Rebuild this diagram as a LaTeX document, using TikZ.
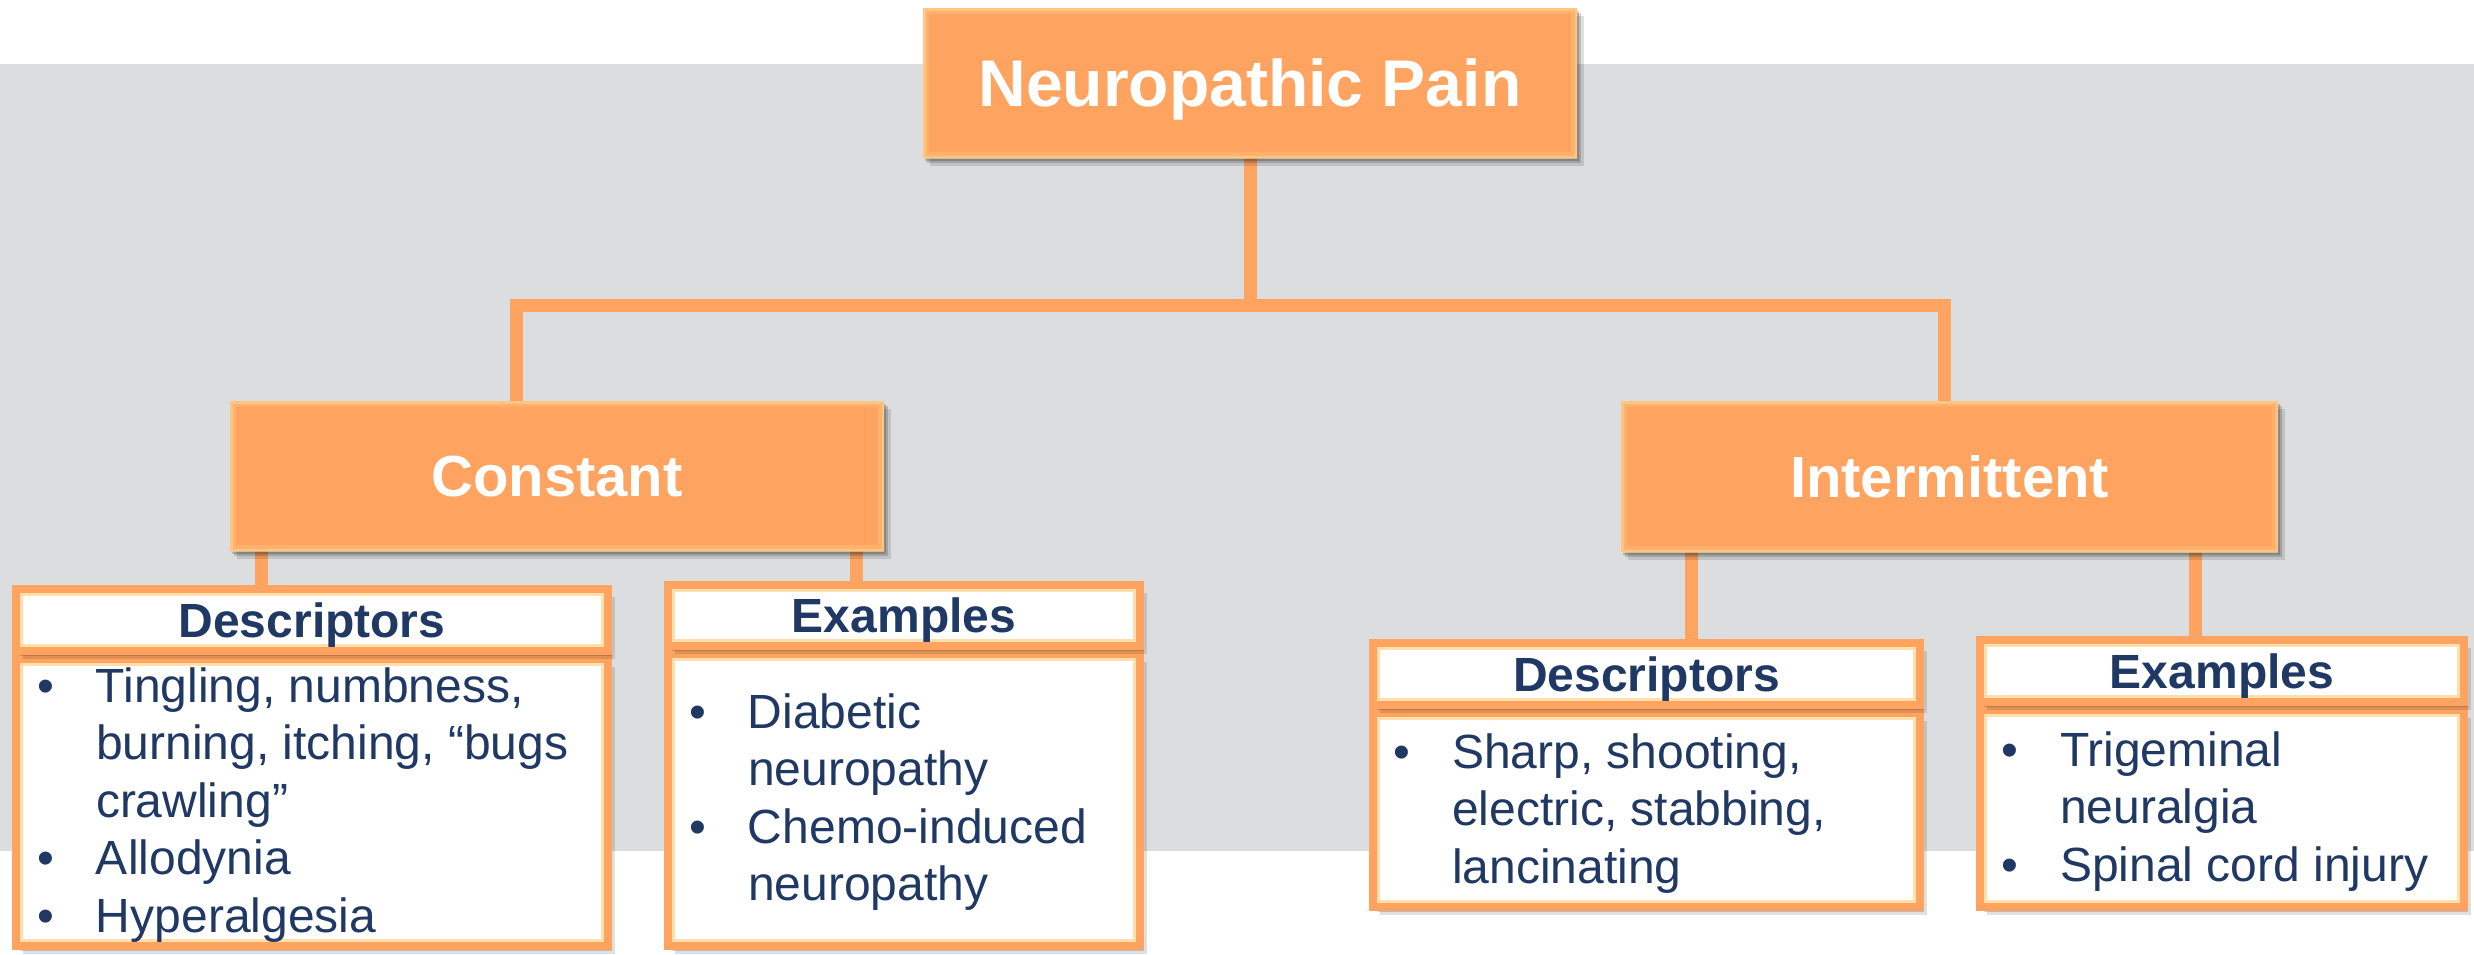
\documentclass[tikz,border=0pt]{standalone}
\usepackage{fontspec}
\setmainfont{Liberation Sans}
\usetikzlibrary{shadows}
\pgfdeclarelayer{back}
\pgfsetlayers{back,main}
\definecolor{bandgray}{RGB}{220,221,223}
\definecolor{boxorange}{RGB}{255,164,96}
\definecolor{litorange}{RGB}{255,216,150}
\definecolor{navy}{RGB}{31,56,100}
\tikzset{
  conn/.style={draw=boxorange, line width=6.5pt},
  softshadow/.style={
      drop shadow={shadow xshift=3.5pt, shadow yshift=-4pt, opacity=.12, fill=black},
      drop shadow={shadow xshift=2.2pt, shadow yshift=-2.6pt, opacity=.16, fill=black},
      drop shadow={shadow xshift=1pt, shadow yshift=-1.3pt, opacity=.18, fill=black}},
  catbox/.style={softshadow, fill=boxorange, draw=none, inner sep=0pt, outer sep=0pt,
      text=white, align=center,
      path picture={
        \draw[litorange, line width=6pt, opacity=.25]
          (path picture bounding box.south west) rectangle (path picture bounding box.north east);
        \draw[litorange, line width=2.5pt, opacity=.55]
          (path picture bounding box.south west) rectangle (path picture bounding box.north east);}},
  framebox/.style={softshadow, fill=white, draw=boxorange, line width=4pt,
      inner sep=0pt, outer sep=0pt, text=navy, align=center,
      path picture={
        \draw[litorange, line width=1.6pt, opacity=.8]
          ([shift={(2.8pt,2.8pt)}]path picture bounding box.south west)
          rectangle ([shift={(-2.8pt,-2.8pt)}]path picture bounding box.north east);}},
  headfont/.style={font=\fontsize{24}{28.8}\selectfont\bfseries, text height=17.2pt, text depth=0pt},
  listtext/.style={anchor=base west, inner sep=0pt, outer sep=0pt, text=navy,
      font=\fontsize{24}{28.8}\selectfont}
}
\newcommand\bulletlist[1]{\begin{tabular}[t]{@{}p{29.5pt}@{}l@{}}#1\end{tabular}}
\begin{document}
\begin{tikzpicture}[x=0.5pt,y=-0.5pt]
\useasboundingbox (0,0) rectangle (2474,954);
\begin{pgfonlayer}{back}
\fill[white] (0,0) rectangle (2474,954);
% grey backdrop band
\fill[bandgray] (0,64) rectangle (2474,851);
\end{pgfonlayer}

% coordinates of the connector verticals
\coordinate (busL) at (516,305);
\coordinate (busR) at (1944,305);
\coordinate (cl) at (261,0);
\coordinate (cr) at (856,0);
\coordinate (il) at (1691,0);
\coordinate (ir) at (2195,0);

% top level
\node[catbox, minimum width=327pt, minimum height=75pt,
      font=\fontsize{33}{38}\selectfont\bfseries, text height=23.6pt, text depth=0pt]
  (top) at (1250,83) {Neuropathic Pain};

% second level
\node[catbox, minimum width=327pt, minimum height=75pt,
      font=\fontsize{29}{34}\selectfont\bfseries, text height=20.8pt, text depth=0pt]
  (constant) at (557,476) {Constant};
\node[catbox, minimum width=328.5pt, minimum height=75.5pt,
      font=\fontsize{29}{34}\selectfont\bfseries, text height=20.8pt, text depth=0pt]
  (inter) at (1949.5,476.5) {Intermittent};

% bodies of the detail boxes
\node[framebox, minimum width=296pt, minimum height=143.5pt] (dlbody) at (312,802.5) {};
\node[framebox, minimum width=236pt, minimum height=146pt] (elbody) at (904,800) {};
\node[framebox, minimum width=273.5pt, minimum height=97pt] (drbody) at (1646.5,810) {};
\node[framebox, minimum width=242pt, minimum height=98.5pt] (erbody) at (2222,808.5) {};

% headers of the detail boxes
\node[framebox, headfont, minimum width=296pt, minimum height=31pt] (dlhead) at (312,620) {Descriptors};
\node[framebox, headfont, minimum width=236pt, minimum height=30.5pt] (elhead) at (904,615.5) {Examples};
\node[framebox, headfont, minimum width=273.5pt, minimum height=31pt] (drhead) at (1646.5,674) {Descriptors};
\node[framebox, headfont, minimum width=242pt, minimum height=31pt] (erhead) at (2222,671) {Examples};

% connectors, kept behind the boxes
\begin{pgfonlayer}{back}
\draw[conn] (top.south) -- (top.south |- busL);
\draw[conn, line join=miter] (busL |- constant.north) -- (busL) -- (busR) -- (busR |- inter.north);
\draw[conn] (constant.south -| cl) -- (dlhead.north -| cl);
\draw[conn] (constant.south -| cr) -- (elhead.north -| cr);
\draw[conn] (inter.south -| il) -- (drhead.north -| il);
\draw[conn] (inter.south -| ir) -- (erhead.north -| ir);
\end{pgfonlayer}

% bullet lists
\node[listtext] (dltext) at (37,702) {\bulletlist{%
  • & Tingling, numbness,\\
    & burning, itching, “bugs\\
    & crawling”\\
  • & Allodynia\\
  • & Hyperalgesia}};
\node[listtext] (eltext) at (689,728) {\bulletlist{%
  • & Diabetic\\
    & neuropathy\\
  • & Chemo-induced\\
    & neuropathy}};
\node[listtext] (drtext) at (1393,768) {\bulletlist{%
  • & Sharp, shooting,\\
    & electric, stabbing,\\
    & lancinating}};
\node[listtext] (ertext) at (2001,766) {\bulletlist{%
  • & Trigeminal\\
    & neuralgia\\
  • & Spinal cord injury}};
\end{tikzpicture}
\end{document}
